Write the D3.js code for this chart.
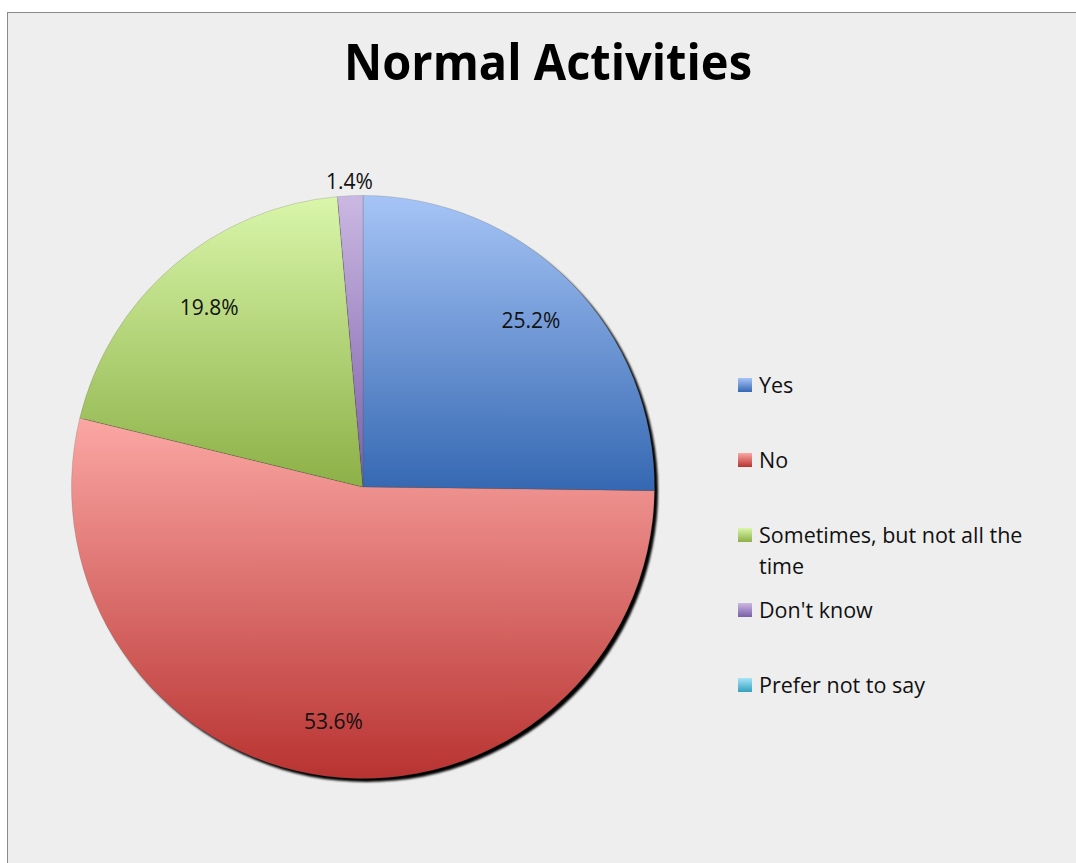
<!DOCTYPE html>
<html><head><meta charset="utf-8">
<script src="https://cdn.jsdelivr.net/npm/d3@7/dist/d3.min.js"></script>
<style>body{margin:0;background:#fff;}svg{display:block;}</style>
</head><body>
<svg id="chart" width="1076" height="863"></svg>
<script>
const title = "Normal Activities";
const categories = ["Yes", "No", "Sometimes, but not all the time", "Don't know", "Prefer not to say"];
const values = [25.2, 53.6, 19.8, 1.4, 0];
const labels = ["25.2%", "53.6%", "19.8%", "1.4%", ""];
const colorsTop = ["#a6c4f6", "#fba7a4", "#d9f6aa", "#cbb8e2", "#a6e4f7"];
const colorsBottom = ["#3568b2", "#b83331", "#8db047", "#7a5ea8", "#34a0bf"];

const svg = d3.select("#chart");
const W = 1076, H = 863;
svg.append("rect").attr("x", 7.5).attr("y", 12.5).attr("width", W).attr("height", H)
  .attr("fill", "#eeeeee").attr("stroke", "#8a8a8a").attr("stroke-width", 1);

const defs = svg.append("defs");
categories.forEach((c, i) => {
  const g = defs.append("linearGradient").attr("id", "g" + i)
    .attr("x1", 0).attr("y1", 0).attr("x2", 0).attr("y2", 1);
  g.append("stop").attr("offset", "0%").attr("stop-color", colorsTop[i]);
  g.append("stop").attr("offset", "100%").attr("stop-color", colorsBottom[i]);
});
const blur = defs.append("filter").attr("id", "shadow").attr("x", "-10%").attr("y", "-10%").attr("width", "120%").attr("height", "120%");
blur.append("feGaussianBlur").attr("stdDeviation", 0.9);

svg.append("text").attr("x", 548).attr("y", 80).attr("text-anchor", "middle")
  .attr("font-family", "Open Sans").attr("font-weight", "bold").attr("font-size", 50)
  .attr("textLength", 408).attr("lengthAdjust", "spacingAndGlyphs")
  .attr("fill", "#000").text(title);

const cx = 363, cy = 487, r = 291.5;
const g = svg.append("g").attr("transform", `translate(${cx},${cy})`);
const pie = d3.pie().sort(null).value(d => d);
const arcs = pie(values);
const arc = d3.arc().innerRadius(0).outerRadius(r);
const labelArc = d3.arc().innerRadius(r * 0.81).outerRadius(r * 0.81);
const outArc = d3.arc().innerRadius(r * 1.05).outerRadius(r * 1.05);

g.append("circle").attr("cx", 3.5).attr("cy", 3.5).attr("r", r).attr("fill", "#000").attr("filter", "url(#shadow)");

g.selectAll("path.slice").data(arcs.filter(d => d.value > 0)).join("path")
  .attr("class", "slice").attr("d", arc)
  .attr("fill", d => "url(#g" + d.index + ")")
  .attr("stroke", "rgba(80,80,80,0.35)").attr("stroke-width", 0.6);

g.selectAll("text.lbl").data(arcs.filter(d => d.value > 0)).join("text")
  .attr("class", "lbl")
  .attr("transform", d => {
    const p = (d.value < 5 ? outArc : labelArc).centroid(d);
    return `translate(${p[0]},${p[1]})`;
  })
  .attr("text-anchor", "middle").attr("dy", "0.35em")
  .attr("font-family", "Open Sans").attr("font-size", 21).attr("fill", "#111")
  .text(d => labels[d.index]);

// legend
const legendY = d3.scalePoint().domain(categories).range([385, 685]);
const lg = svg.append("g");
categories.forEach((c, i) => {
  const y = legendY(c);
  lg.append("rect").attr("x", 738).attr("y", y - 7).attr("width", 14).attr("height", 14)
    .attr("fill", "url(#g" + i + ")");
  const t = lg.append("text").attr("x", 759).attr("y", y).attr("dy", "0.35em")
    .attr("font-family", "Open Sans").attr("font-size", 21.5).attr("fill", "#111");
  if (c === "Sometimes, but not all the time") {
    t.append("tspan").attr("x", 759).text("Sometimes, but not all the");
    t.append("tspan").attr("x", 759).attr("dy", 31).text("time");
  } else t.text(c);
});
</script>
</body></html>
